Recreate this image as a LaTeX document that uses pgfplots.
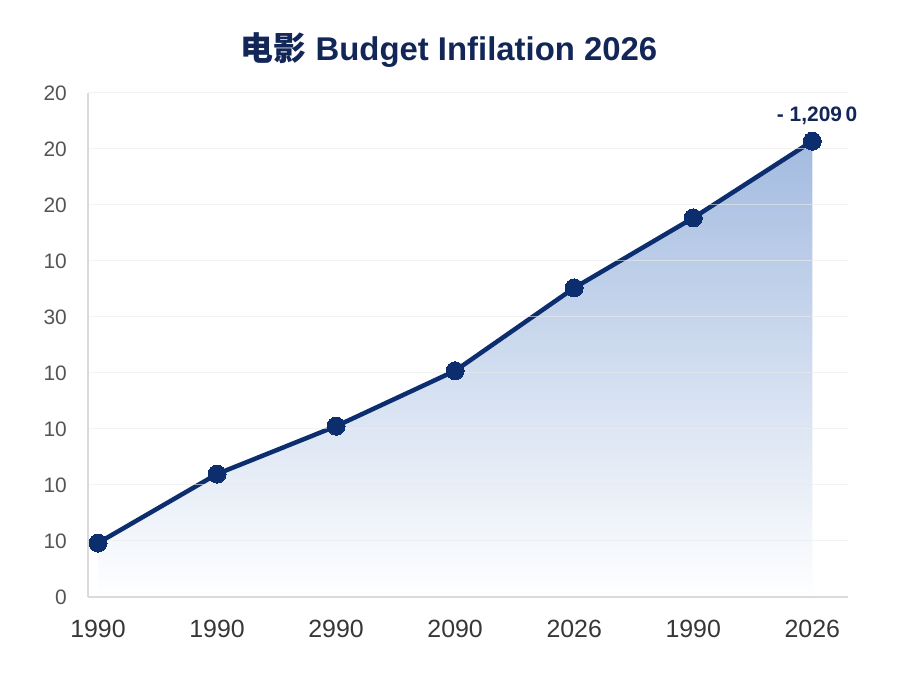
\documentclass[border=0pt]{standalone}
\usepackage{pgfplots}
\pgfplotsset{compat=1.18}
\usepackage{fontspec}
\setmainfont{Liberation Sans}
\newfontfamily\cjk{Noto Sans CJK SC}
\definecolor{navy}{RGB}{12,46,110}
\definecolor{titlec}{RGB}{18,38,88}
\definecolor{fillc}{RGB}{163,187,224}
\definecolor{gridc}{RGB}{236,236,236}
\definecolor{axc}{RGB}{218,218,218}
\definecolor{ylab}{RGB}{85,85,85}
\definecolor{xlab}{RGB}{55,55,55}
\begin{document}
\begin{tikzpicture}[x=1bp,y=1bp]
\path[use as bounding box, fill=white] (0,0) rectangle (900,675);
\node[font=\bfseries\fontsize{33}{36}\selectfont, text=titlec] at (449,625) {{\cjk\bfseries 电影} Budget Infilation 2026};
\begin{axis}[
  at={(88bp,78bp)}, anchor=south west,
  scale only axis, width=760bp, height=504bp,
  xmin=-0.084, xmax=6.3, ymin=0, ymax=9,
  axis lines*=left,
  axis line style={draw=axc, line width=1.5bp},
  axis on top,
  major tick length=0pt,
  xtick={0,1,2,3,4,5,6},
  xticklabels={1990,1990,2990,2090,2026,1990,2026},
  ytick={0,1,2,3,4,5,6,7,8,9},
  yticklabels={0,10,10,10,10,30,10,20,20,20},
  ymajorgrids,
  grid style={draw=gridc, line width=1bp, opacity=0.6},
  y tick label style={font=\fontsize{21}{23}\selectfont, text=ylab, inner sep=0pt, xshift=-21bp},
  x tick label style={font=\fontsize{25}{27}\selectfont, text=xlab, inner sep=0pt, yshift=-23bp},
  clip=false,
]
\addplot[draw=none, top color=fillc, bottom color=white] coordinates {
  (0,0.964) (1,2.196) (2,3.05) (3,4.04) (4,5.52) (5,6.77) (6,8.14)
} \closedcycle;
\addplot[navy, line width=4.5bp, mark=*, mark size=9bp, mark options={fill=navy, draw=navy, line width=0pt}] coordinates {
  (0,0.964) (1,2.196) (2,3.05) (3,4.04) (4,5.52) (5,6.77) (6,8.14)
};
\node[font=\bfseries\fontsize{21}{23}\selectfont, text=titlec, anchor=south] at (axis cs:6.04,8.14) [yshift=13bp] {- 1,209\,0};
\end{axis}
\end{tikzpicture}
\end{document}
